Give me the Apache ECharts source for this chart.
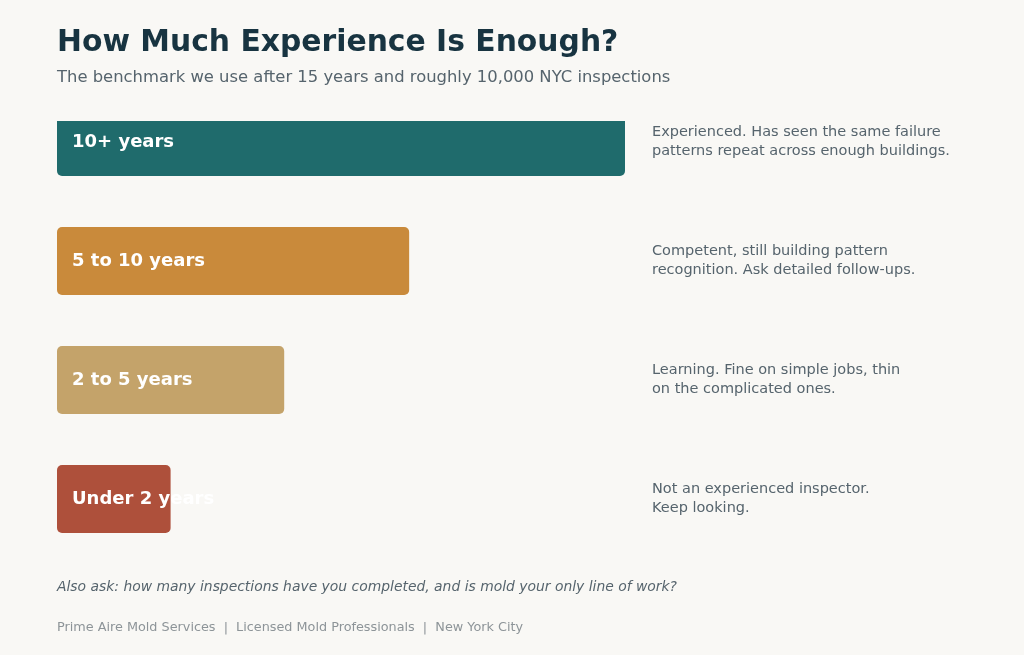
<!DOCTYPE html>
<html>
<head>
<meta charset="utf-8">
<script src="https://cdn.jsdelivr.net/npm/echarts@6/dist/echarts.min.js"></script>
<style>
  html, body { margin: 0; padding: 0; background: #f9f8f5; }
  #chart { width: 1024px; height: 655px; }
</style>
</head>
<body>
<div id="chart"></div>
<script>
// 经验等级
var levels = ['10+ years', '5 to 10 years', '2 to 5 years', 'Under 2 years'];
// 条形长度（相对分值，读图估计）
var scores = [100, 62, 40, 20];
var barColors = ['#1f6b6c', '#c98a3b', '#c4a36a', '#ae503b'];
// 右侧说明
var notes = [
	'Experienced. Has seen the same failure\npatterns repeat across enough buildings.',
	'Competent, still building pattern\nrecognition. Ask detailed follow-ups.',
	'Learning. Fine on simple jobs, thin\non the complicated ones.',
	'Not an experienced inspector.\nKeep looking.'
];

var font = 'DejaVu Sans';
var bg = '#f9f8f5';

var data = [];
for(var a = 0; a < scores.length; a++) {
	data.push({
		value: scores[a],
		itemStyle: { color: barColors[a] }
	});
}

var myChart = echarts.init(document.getElementById('chart'));
myChart.setOption({
	backgroundColor: bg,
	animation: false,
	title: {
		text: 'How Much Experience Is Enough?',
		subtext: 'The benchmark we use after 15 years and roughly 10,000 NYC inspections',
		left: 57,
		top: 28,
		padding: 0,
		itemGap: 12,
		textStyle: { fontFamily: font, fontSize: 29.8, fontWeight: 'bold', color: '#183441' },
		subtextStyle: { fontFamily: font, fontSize: 16.4, color: '#56646d' }
	},
	grid: {
		left: 57,
		right: 399,
		top: 82.5,
		bottom: 96.5
	},
	xAxis: {
		type: 'value',
		min: 0,
		max: 100,
		show: false
	},
	yAxis: [{
		type: 'category',
		inverse: true,
		data: levels,
		show: false
	}, {
		type: 'category',
		inverse: true,
		position: 'right',
		data: notes,
		axisLine: { show: false },
		axisTick: { show: false },
		axisLabel: {
			margin: 27,
			align: 'left',
			fontFamily: font,
			fontSize: 14.5,
			lineHeight: 19,
			color: '#56646d'
		}
	}],
	series: [{
		type: 'bar',
		data: data,
		barWidth: 68,
		itemStyle: { borderRadius: 5 },
		label: {
			show: true,
			position: 'insideLeft',
			distance: 15,
			formatter: function(p) { return levels[p.dataIndex]; },
			fontFamily: font,
			fontSize: 18,
			fontWeight: 'bold',
			color: '#ffffff'
		}
	}],
	graphic: [{
		// 顶部条被截断的效果
		type: 'rect',
		z: 100,
		shape: { x: 50, y: 97, width: 590, height: 24 },
		style: { fill: bg }
	}, {
		type: 'text',
		left: 57,
		top: 580,
		style: {
			text: 'Also ask: how many inspections have you completed, and is mold your only line of work?',
			font: 'italic 13.9px "DejaVu Sans"',
			fill: '#56646d'
		}
	}, {
		type: 'text',
		left: 57,
		top: 621,
		style: {
			text: 'Prime Aire Mold Services  |  Licensed Mold Professionals  |  New York City',
			font: '12.8px "DejaVu Sans"',
			fill: '#8d9498'
		}
	}]
});
</script>
</body>
</html>
